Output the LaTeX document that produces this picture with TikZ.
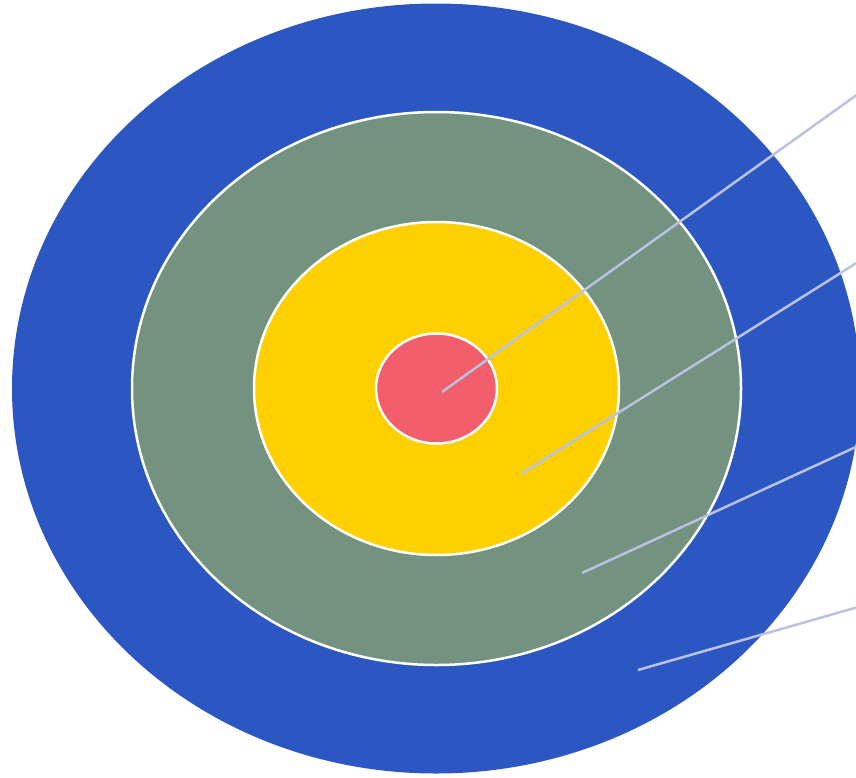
\documentclass[tikz,border=0pt]{standalone}
\usetikzlibrary{shapes.geometric}
\definecolor{ringblue}{RGB}{44,87,194}
\definecolor{ringgreen}{RGB}{115,146,128}
\definecolor{ringyellow}{RGB}{255,208,0}
\definecolor{ringred}{RGB}{242,94,107}
\definecolor{pointer}{RGB}{186,194,226}
\begin{document}
\begin{tikzpicture}[x=1pt, y=-1pt,
		ring/.style={ellipse, inner sep=0pt, draw=white, line width=2.5pt},
		pointerline/.style={pointer, line width=2.5pt}]
	\useasboundingbox (0,0) rectangle (856,777);
	\clip (0,0) rectangle (856,777);
	\node[ring, draw=none, fill=ringblue, minimum width=848pt, minimum height=770pt] (outer) at (436,388.5) {};
	\node[ring, fill=ringgreen, minimum width=609pt, minimum height=553pt] (second) at (436.5,388.5) {};
	\node[ring, fill=ringyellow, minimum width=365pt, minimum height=333pt] (third) at (436.5,388.5) {};
	\node[ring, fill=ringred, minimum width=121pt, minimum height=110pt] (bull) at (436.5,388.5) {};
	\coordinate (p1) at (442,392);
	\coordinate (p2) at (521,474);
	\coordinate (p3) at (582,573);
	\coordinate (p4) at (638,670);
	\coordinate (e1) at (858,94);
	\coordinate (e2) at (858,262);
	\coordinate (e3) at (858,446);
	\coordinate (e4) at (858,607);
	\foreach \i in {1,...,4}
		\draw[pointerline] (p\i) -- (e\i);
\end{tikzpicture}
\end{document}
